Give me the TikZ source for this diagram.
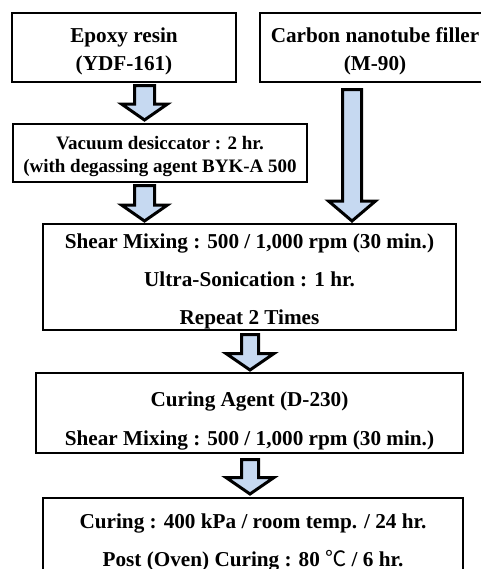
\documentclass[tikz,border=0pt]{standalone}
\usepackage{fontspec}
\setmainfont{Liberation Serif}
\newfontfamily\cjk{Noto Sans CJK KR}
\usetikzlibrary{calc}

\definecolor{arrowblue}{HTML}{C6D9F1}

\tikzset{
  stepbox/.style={draw=black, line width=0.75pt, inner sep=0pt, outer sep=0pt,
    align=center, font=\bfseries\fontsize{10.6}{14}\selectfont},
  fatarrow/.style={draw=black, line width=1.5pt, fill=arrowblue, line join=miter}
}

% #1 from, #2 to, #3 half shaft, #4 half head, #5 head length
\newcommand\blockarrow[5]{%
  \draw[fatarrow] let \p1=(#1), \p2=(#2) in
    (\x1-#3,\y1) -- (\x1+#3,\y1) -- (\x1+#3,\y2+#5) -- (\x1+#4,\y2+#5)
    -- (\x1,\y2) -- (\x1-#4,\y2+#5) -- (\x1-#3,\y2+#5) -- cycle;}

\begin{document}
\begin{tikzpicture}[x=0.5pt, y=-0.5pt]
\useasboundingbox (0,0) rectangle (481,569);
\clip (0,0) rectangle (481,569);

% boxes
\node[stepbox, minimum width=112pt, minimum height=34.5pt] (epoxy) at (124,47.5)
  {\rule{0pt}{11pt}Epoxy resin\\(YDF-161)};
\node[stepbox, minimum width=115pt, minimum height=34.5pt] (cnt) at (375,47.5)
  {\rule{0pt}{11pt}Carbon nanotube filler\\(M-90)};
\node[stepbox, minimum width=147pt, minimum height=29pt,
  font=\bfseries\fontsize{9.5}{11.5}\selectfont] (vacuum) at (160,153)
  {\rule{0pt}{10pt}Vacuum desiccator : 2 hr.\\(with degassing agent BYK-A 500};
\node[stepbox, minimum width=206.5pt, minimum height=53pt,
  font=\bfseries\fontsize{10.6}{19}\selectfont] (shear) at (249.5,277)
  {\rule{0pt}{12pt}Shear Mixing : 500 / 1,000 rpm (30 min.)\\Ultra-Sonication : 1 hr.\\Repeat 2 Times};
\node[stepbox, minimum width=213.5pt, minimum height=40pt,
  font=\bfseries\fontsize{10.6}{19.5}\selectfont] (curagent) at (249.5,413)
  {\rule{0pt}{15pt}Curing Agent (D-230)\\Shear Mixing : 500 / 1,000 rpm (30 min.)};
\node[stepbox, minimum width=210pt, minimum height=41pt,
  font=\bfseries\fontsize{10.6}{19}\selectfont] (curing) at (253,539)
  {\rule{0pt}{11pt}Curing : 400 kPa / room temp. / 24 hr.\\Post (Oven) Curing : 80 {\cjk\mdseries ℃} / 6 hr.};

% arrow columns
\coordinate (colA) at (144.5,0);
\coordinate (colB) at (352,0);
\coordinate (colC) at (250,0);

% arrows
\blockarrow{[yshift=-1.75pt]epoxy.south -| colA}{[yshift=2pt]vacuum.north -| colA}{5pt}{11.5pt}{8pt}
\blockarrow{[yshift=-1.75pt]vacuum.south -| colA}{[yshift=1.5pt]shear.north -| colA}{5pt}{11.5pt}{8pt}
\blockarrow{[yshift=-3.75pt]cnt.south -| colB}{[yshift=1.5pt]shear.north -| colB}{4.75pt}{11.75pt}{10pt}
\blockarrow{[yshift=-2.25pt]shear.south -| colC}{[yshift=1.5pt]curagent.north -| colC}{4.25pt}{12pt}{8.25pt}
\blockarrow{[yshift=-3.25pt]curagent.south -| colC}{[yshift=2pt]curing.north -| colC}{4.25pt}{12pt}{8.25pt}
\end{tikzpicture}
\end{document}
